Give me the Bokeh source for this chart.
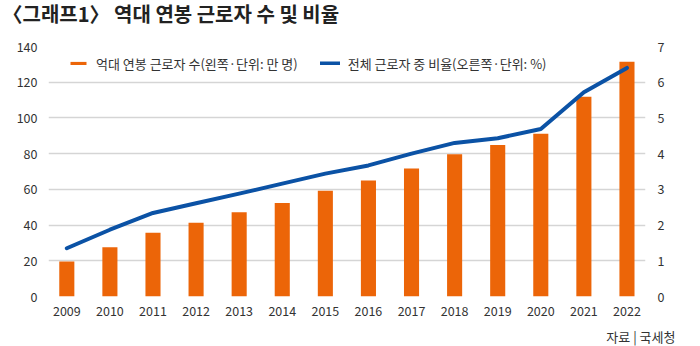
from bokeh.plotting import figure
from bokeh.layouts import column
from bokeh.models import (Range1d, LinearAxis, FixedTicker, Label, Legend, LegendItem)
from bokeh.embed import file_html
from bokeh.resources import INLINE

years = [2009, 2010, 2011, 2012, 2013, 2014, 2015, 2016, 2017, 2018, 2019, 2020, 2021, 2022]
workers = [19.6, 27.6, 35.7, 41.3, 47.2, 52.3, 59.2, 65.0, 71.7, 79.7, 84.9, 91.1, 111.8, 131.4]
ratio = [1.35, 1.87, 2.34, 2.61, 2.88, 3.16, 3.44, 3.67, 4.00, 4.30, 4.43, 4.69, 5.72, 6.40]
left_ticks = [0, 20, 40, 60, 80, 100, 120, 140]
right_ticks = [0, 1, 2, 3, 4, 5, 6, 7]

title_text = "〈그래프1〉 역대 연봉 근로자 수 및 비율"
bar_label = "억대 연봉 근로자 수(왼쪽·단위: 만 명)"
line_label = "전체 근로자 중 비율(오른쪽·단위: %)"
source_text = "자료 | 국세청"

ORANGE = "#EC6508"
BLUE = "#0B52A5"
GRID = "#D5D5D5"
TXT = "#333333"
FONT = "Noto Sans CJK KR"

W, H_TOP, H_MAIN, H_BOT = 700, 38, 284, 24


def no_align(f):
    try:
        f.frame_align = False
    except Exception:
        pass


def strip_fig(h):
    f = figure(width=W, height=h, output_backend="svg", toolbar_location=None,
               x_range=Range1d(0, W), y_range=Range1d(0, h),
               min_border=0, x_axis_type=None, y_axis_type=None)
    f.outline_line_color = None
    f.grid.visible = False
    f.background_fill_color = "white"
    f.border_fill_color = "white"
    no_align(f)
    return f


# title strip
top = strip_fig(H_TOP)
top.add_layout(Label(x=2, y=H_TOP - 13, text=title_text, text_font=FONT,
                     text_font_size="20px", text_font_style="bold",
                     text_color="#222222", text_align="left", text_baseline="middle"))

# main chart
p = figure(width=W, height=H_MAIN, output_backend="svg", toolbar_location=None,
           x_range=Range1d(2009 - 0.425, 2022 + 0.43), y_range=Range1d(0, 140),
           min_border_left=48, min_border_right=55, min_border_top=8, min_border_bottom=26)
p.outline_line_color = None
p.background_fill_color = "white"
p.border_fill_color = "white"
no_align(p)

p.extra_y_ranges = {"pct": Range1d(0, 7)}

bars = p.vbar(x=years, top=workers, width=0.35, color=ORANGE, line_color=None)
ln = p.line(x=years, y=ratio, y_range_name="pct", line_color=BLUE, line_width=4,
            line_cap="round", line_join="round")

p.xaxis.ticker = FixedTicker(ticks=years)
p.yaxis.ticker = FixedTicker(ticks=left_ticks)
raxis = LinearAxis(y_range_name="pct", ticker=FixedTicker(ticks=right_ticks))
p.add_layout(raxis, "right")

for ax in [p.xaxis[0], p.yaxis[0], raxis]:
    ax.axis_line_color = None
    ax.major_tick_line_color = None
    ax.minor_tick_line_color = None
    ax.major_label_text_font = FONT
    ax.major_label_text_font_size = "12.5px"
    ax.major_label_text_color = TXT
p.xaxis.major_label_standoff = 3
p.yaxis.major_label_standoff = 5
raxis.major_label_standoff = 6

p.xgrid.grid_line_color = None
p.ygrid.grid_line_color = GRID
p.ygrid.grid_line_width = 1.3

legend = Legend(items=[LegendItem(label=bar_label, renderers=[bars]),
                       LegendItem(label=line_label, renderers=[ln])],
                orientation="horizontal", location=(20, 223),
                glyph_width=20, glyph_height=4, label_height=20,
                label_standoff=8, spacing=22, padding=0, margin=0,
                border_line_color=None, background_fill_alpha=0,
                label_text_font=FONT, label_text_font_size="13px",
                label_text_color=TXT)
p.add_layout(legend, "center")

# source strip
bot = strip_fig(H_BOT)
bot.add_layout(Label(x=675, y=H_BOT - 14, text=source_text, text_font=FONT,
                     text_font_size="13px", text_color=TXT,
                     text_align="right", text_baseline="middle"))

layout = column(top, p, bot, spacing=0)
open("out.html", "w").write(file_html(layout, INLINE))
